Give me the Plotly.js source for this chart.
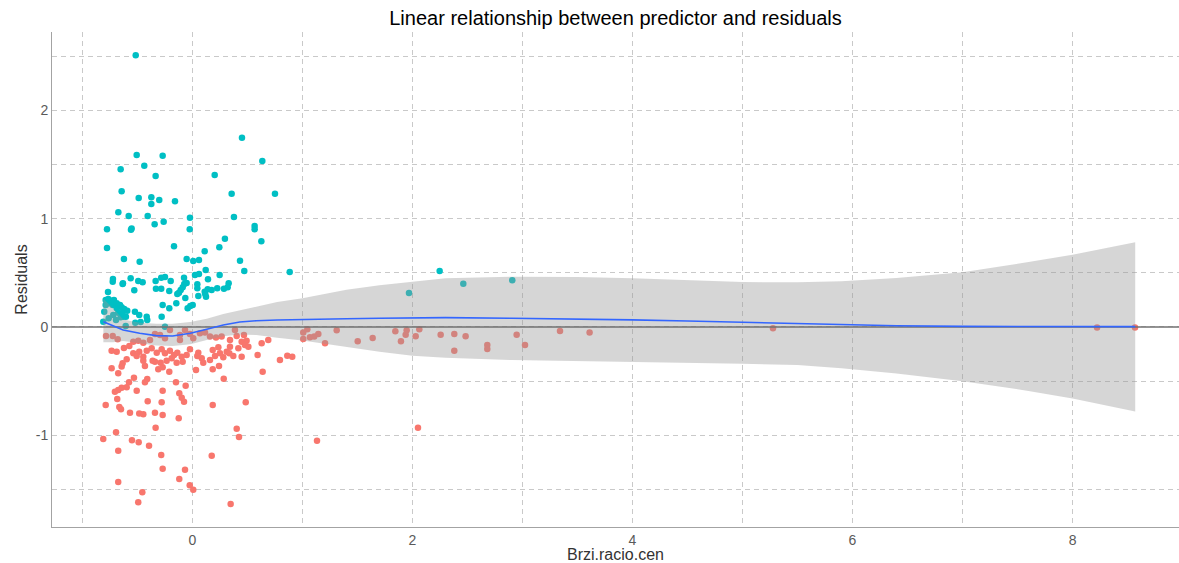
<!DOCTYPE html>
<html>
<head>
<meta charset="utf-8">
<script src="https://cdn.plot.ly/plotly-3.0.1.min.js"></script>
<style>
  html, body { margin: 0; padding: 0; background: #ffffff; }
  #chart { width: 1179px; height: 563px; }
</style>
</head>
<body>
<div id="chart"></div>
<script>
// Residuals above zero (teal)
const posX = [-0.516,-0.507,-0.271,-0.438,-0.653,-0.335,-0.644,-0.489,-0.374,-0.302,-0.374,-0.159,-0.674,-0.58,-0.407,-0.023,-0.777,-0.553,-0.559,-0.344,-0.262,-0.025,-0.777,-0.168,-0.623,-0.48,-0.053,0.007,-0.723,-0.725,-0.632,-0.562,-0.493,-0.453,-0.335,-0.284,-0.25,-0.198,-0.077,-0.053,-0.075,
  0.45,0.635,0.202,0.356,0.75,0.377,0.565,0.565,0.295,0.626,0.244,0.111,0.059,0.432,0.12,0.471,0.884,0.023,0.059,0.247,0.141,0.329,0.044,
  -0.635,-0.529,-0.768,-0.332,-0.284,-0.211,-0.089,-0.107,-0.123,-0.138,-0.147,-0.271,-0.211,-0.065,-0.044,-0.02,0.002,0.044,0.053,0.111,0.123,0.138,0.116,0.174,0.225,0.286,0.32,
  -0.789,-0.765,-0.738,-0.714,-0.789,-0.756,-0.725,-0.689,-0.659,-0.644,-0.62,-0.802,-0.689,-0.675,-0.635,-0.605,-0.593,-0.762,-0.72,-0.695,-0.653,-0.523,-0.484,-0.416,-0.411,-0.471,-0.52,-0.28,-0.607,-0.25,-0.811,-0.629,
  2.247,2.462,2.907,1.968];
const posY = [2.51,1.588,1.582,1.489,1.456,1.394,1.253,1.191,1.197,1.173,1.136,1.161,1.059,1.025,1.025,1.009,0.902,0.91,0.898,0.948,0.972,0.902,0.729,0.745,0.628,0.603,0.628,0.609,0.443,0.418,0.403,0.45,0.425,0.413,0.425,0.455,0.462,0.425,0.455,0.406,0.397,
  1.748,1.533,1.404,1.231,1.231,1.016,0.933,0.902,0.815,0.791,0.736,0.699,0.619,0.612,0.526,0.517,0.508,0.48,0.489,0.48,0.44,0.403,0.394,
  0.397,0.339,0.323,0.354,0.354,0.332,0.367,0.342,0.317,0.305,0.219,0.203,0.172,0.268,0.172,0.194,0.203,0.357,0.286,0.326,0.28,0.348,0.305,0.342,0.357,0.354,0.367,
  0.249,0.259,0.243,0.249,0.203,0.219,0.203,0.219,0.203,0.182,0.166,0.141,0.172,0.132,0.132,0.095,0.151,0.08,0.111,0.065,0.09,0.141,0.111,0.095,0.065,0.046,0.04,0.095,0.009,0.003,0.049,0.095,
  0.517,0.4,0.431,0.314];

// Residuals below zero (salmon)
const negX = [-0.786,-0.725,-0.680,-0.538,-0.493,-0.447,-0.386,-0.341,-0.295,-0.205,-0.114,-0.068,-0.023,0.007,0.068,0.114,0.159,0.214,0.265,0.341,0.386,0.402,0.468,0.492,0.447,1.007,1.044,-0.114,-0.25,
  -0.735,-0.689,-0.623,-0.574,-0.538,-0.484,-0.507,-0.447,-0.416,-0.371,-0.325,-0.280,-0.25,-0.205,-0.168,-0.138,-0.098,-0.053,-0.189,-0.235,-0.289,-0.341,-0.362,-0.144,-0.089,-0.023,0.053,0.084,0.044,0.098,0.159,0.184,0.205,0.235,0.25,0.280,0.311,0.341,0.335,0.371,0.417,0.447,0.477,0.508,0.592,0.629,0.689,
  -0.598,-0.635,-0.644,-0.735,-0.675,-0.447,-0.432,-0.271,-0.311,-0.211,0.032,0.184,0.241,0.638,
  0.795,0.862,0.907,1.132,2.05,1.007,1.068,1.107,1.144,1.205,1.311,1.502,1.638,1.844,1.947,1.938,1.895,2.029,2.062,2.256,2.38,2.483,2.38,2.68,2.68,2.947,3.023,3.341,
  3.61,5.277,8.223,8.568,
  -0.532,-0.411,-0.432,-0.577,-0.598,-0.644,-0.675,-0.705,-0.507,-0.684,-0.789,-0.665,-0.65,-0.568,-0.484,-0.447,-0.341,-0.271,-0.407,-0.28,-0.271,-0.15,-0.062,-0.12,-0.098,-0.077,-0.125,-0.335,-0.695,-0.811,-0.55,-0.489,-0.395,-0.675,-0.284,-0.271,-0.068,-0.12,-0.675,-0.025,0.007,-0.456,-0.493,
  0.284,0.184,0.484,0.402,0.423,0.175,0.347];
const negY = [-0.083,-0.083,-0.114,-0.136,-0.126,-0.145,-0.120,-0.065,-0.074,-0.028,-0.074,-0.028,-0.065,-0.105,-0.059,-0.052,-0.089,-0.096,-0.089,-0.120,-0.028,-0.083,-0.074,-0.126,-0.136,-0.052,-0.022,-0.120,-0.105,
  -0.219,-0.228,-0.194,-0.175,-0.243,-0.228,-0.268,-0.274,-0.219,-0.197,-0.237,-0.206,-0.243,-0.219,-0.259,-0.237,-0.274,-0.259,-0.289,-0.311,-0.330,-0.320,-0.311,-0.330,-0.320,-0.206,-0.237,-0.289,-0.268,-0.330,-0.305,-0.212,-0.268,-0.187,-0.243,-0.280,-0.228,-0.182,-0.243,-0.268,-0.197,-0.274,-0.166,-0.182,-0.259,-0.151,-0.120,
  -0.299,-0.335,-0.366,-0.382,-0.428,-0.311,-0.360,-0.372,-0.391,-0.413,-0.397,-0.391,-0.360,-0.413,
  -0.305,-0.265,-0.274,-1.05,-0.93,-0.111,-0.095,-0.089,-0.065,-0.151,-0.031,-0.132,-0.102,-0.040,-0.031,-0.071,-0.132,-0.086,-0.022,-0.071,-0.065,-0.086,-0.219,-0.166,-0.203,-0.071,-0.166,-0.037,
  -0.052,-0.012,-0.005,-0.005,
  -0.468,-0.480,-0.511,-0.511,-0.557,-0.560,-0.582,-0.597,-0.588,-0.665,-0.720,-0.739,-0.760,-0.791,-0.800,-0.806,-0.791,-0.813,-0.686,-0.695,-0.588,-0.511,-0.542,-0.612,-0.653,-0.690,-0.843,-0.930,-0.972,-1.034,-1.046,-1.065,-1.096,-1.142,-1.182,-1.308,-1.318,-1.404,-1.431,-1.462,-1.502,-1.526,-1.619,
  -0.477,-0.720,-0.695,-0.939,-1.016,-1.188,-1.634];

// Loess fit with its confidence band
const fitX  = [-0.81,-0.72,-0.63,-0.48,-0.33,-0.18,-0.02,0.13,0.28,0.43,0.58,0.77,1.0,1.4,1.7,2.0,2.3,2.9,3.5,4.0,4.5,5.0,5.5,5.9,6.4,7.0,7.6,8.0,8.57];
const fitY  = [0.049,0.010,-0.028,-0.058,-0.080,-0.083,-0.058,-0.021,0.018,0.046,0.058,0.065,0.071,0.076,0.080,0.084,0.086,0.080,0.074,0.066,0.055,0.043,0.030,0.020,0.012,0.006,0.004,0.003,0.003];
const fitHi = [0.26,0.17,0.07,0.04,0.03,0.03,0.045,0.075,0.12,0.155,0.185,0.23,0.265,0.345,0.385,0.42,0.45,0.465,0.462,0.45,0.43,0.415,0.412,0.423,0.453,0.506,0.60,0.667,0.783];
const fitLo = [-0.14,-0.14,-0.13,-0.15,-0.17,-0.175,-0.16,-0.12,-0.085,-0.07,-0.075,-0.10,-0.125,-0.185,-0.228,-0.265,-0.285,-0.305,-0.318,-0.323,-0.33,-0.339,-0.352,-0.38,-0.43,-0.50,-0.59,-0.66,-0.78];

// Axis ticks (plain hyphen minus on the labels)
const xTickVals = [0, 2, 4, 6, 8];
const xTickText = ['0', '2', '4', '6', '8'];
const yTickVals = [-1, 0, 1, 2];
const yTickText = ['-1', '0', '1', '2'];

const xRange = [-1.277, 8.968];
const yRange = [-1.847, 2.724];
const baseline = 0;

const gridColor = '#c9c9c9';
const gridDash = '5px,4px';
const font = 'Liberation Sans, Arial, sans-serif';

const traces = [
  {
    type: 'scatter', mode: 'markers', x: posX, y: posY,
    marker: { color: '#00BFC4', size: 6.5 }, hoverinfo: 'x+y'
  },
  {
    type: 'scatter', mode: 'markers', x: negX, y: negY,
    marker: { color: '#F8766D', size: 6.5 }, hoverinfo: 'x+y'
  },
  {
    // confidence band as one closed polygon
    type: 'scatter', mode: 'lines',
    x: fitX.concat(fitX.slice().reverse()),
    y: fitHi.concat(fitLo.slice().reverse()),
    fill: 'toself', fillcolor: 'rgba(153,153,153,0.4)',
    line: { width: 0 }, hoverinfo: 'skip'
  },
  {
    type: 'scatter', mode: 'lines', x: xRange, y: [baseline, baseline],
    line: { color: '#707070', width: 1.5 }, hoverinfo: 'skip'
  },
  {
    type: 'scatter', mode: 'lines', x: fitX, y: fitY,
    line: { color: '#3366FF', width: 1.6 }, hoverinfo: 'skip'
  }
];

const axisCommon = {
  showgrid: true, gridcolor: gridColor, griddash: gridDash, gridwidth: 1,
  showline: true, linecolor: '#a3a3a3', linewidth: 1,
  ticks: '', zeroline: false,
  tickfont: { family: font, size: 14, color: '#5a5a5a' }
};

const layout = {
  width: 1179, height: 563,
  margin: { l: 52, r: 0, t: 32, b: 36 },
  paper_bgcolor: '#ffffff', plot_bgcolor: '#ffffff',
  showlegend: false,
  font: { family: font },
  title: {
    text: 'Linear relationship between predictor and residuals',
    font: { family: font, size: 20, color: '#000000' },
    x: 0.5, xref: 'paper', y: 1 - 18 / 563, yref: 'container', yanchor: 'middle'
  },
  xaxis: Object.assign({}, axisCommon, {
    range: xRange, tickmode: 'array', tickvals: xTickVals, ticktext: xTickText,
    minor: { tick0: 0, dtick: 1, showgrid: true, gridcolor: gridColor, griddash: gridDash, gridwidth: 1 },
    title: { text: 'Brzi.racio.cen', font: { family: font, size: 16, color: '#333333' }, standoff: 4 }
  }),
  yaxis: Object.assign({}, axisCommon, {
    range: yRange, tickmode: 'array', tickvals: yTickVals, ticktext: yTickText,
    minor: { tick0: 0, dtick: 0.5, showgrid: true, gridcolor: gridColor, griddash: gridDash, gridwidth: 1 },
    title: { text: 'Residuals', font: { family: font, size: 16, color: '#333333' }, standoff: 4 }
  })
};

Plotly.newPlot('chart', traces, layout, { displayModeBar: false, staticPlot: true });
</script>
</body>
</html>
